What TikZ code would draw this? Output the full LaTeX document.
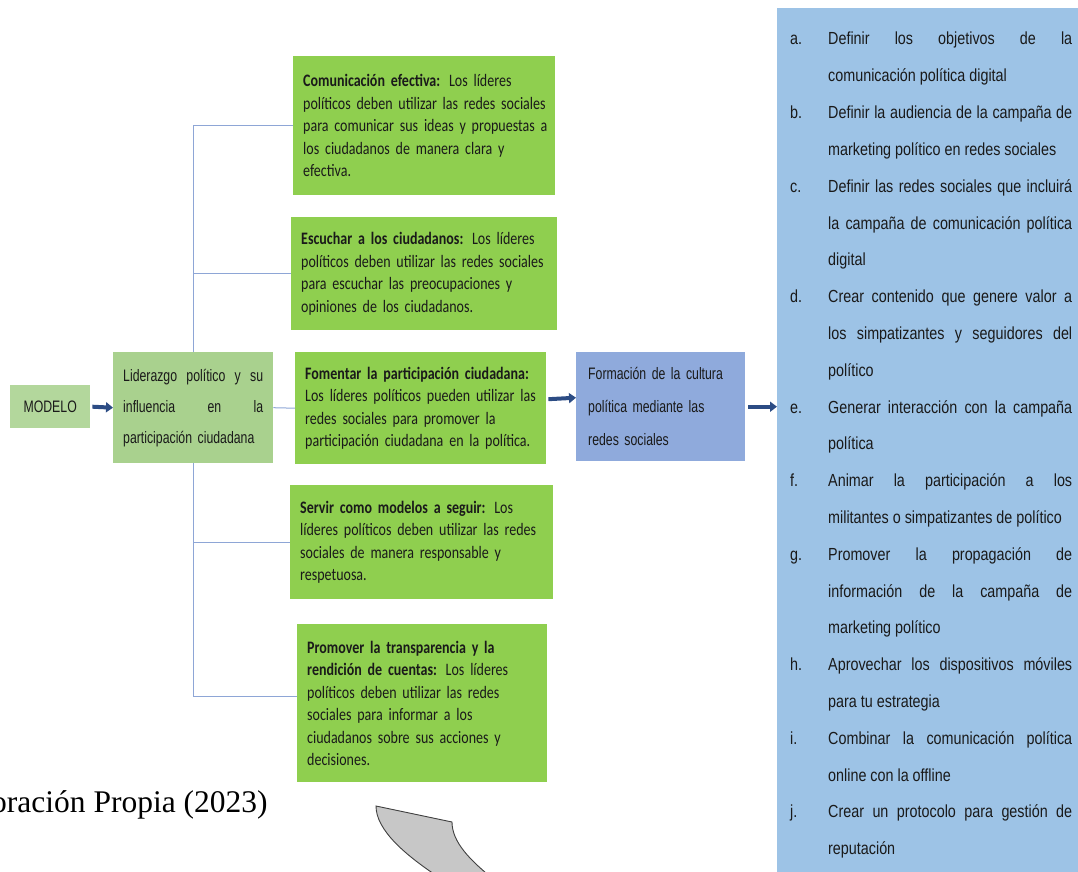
\documentclass[tikz,border=0pt]{standalone}
\usepackage{fontspec}
\setmainfont{Liberation Sans}
\newfontfamily\carlito[FakeStretch=0.8,WordSpace=0.6]{Carlito}
\newfontfamily\narrow[FakeStretch=0.82]{Liberation Sans}
\newfontfamily\narrowb[FakeStretch=0.74]{Liberation Sans}
\newfontfamily\timesf{Liberation Serif}
\usetikzlibrary{arrows.meta,calc}
\definecolor{modgreen}{HTML}{B3D79C}
\definecolor{lidgreen}{HTML}{A9D18E}
\definecolor{boxgreen}{HTML}{8FCF4F}
\definecolor{formblue}{HTML}{8FAADC}
\definecolor{listblue}{HTML}{9DC3E6}
\definecolor{arrowblue}{HTML}{2C4C84}
\definecolor{linkblue}{HTML}{8EA6D6}
\definecolor{txt}{HTML}{1A1A1A}
\newcommand\jl[1]{\makebox[244pt][s]{#1}}
\hyphenpenalty=10000
\exhyphenpenalty=10000
\tikzset{
  gbox/.style={fill=boxgreen, anchor=north west, inner xsep=10pt, inner ysep=0pt,
    align=left, text=txt, font=\carlito\fontsize{17.5}{22.5}\selectfont},
  narrowtxt/.style={text=txt, font=\narrowb\fontsize{16.6}{31}\selectfont},
  link/.style={draw=linkblue, line width=1pt},
  bigarrow/.style={draw=arrowblue, line width=4pt, -{Triangle[length=7pt,width=10pt]}},
  listtxt/.style={anchor=base west, inner sep=0pt, text=txt, font=\narrow\fontsize{17.5}{20}\selectfont},
}
\begin{document}
\begin{tikzpicture}[x=1pt,y=-1pt]
\useasboundingbox (0,0) rectangle (1078,872);

% list box
\node[fill=listblue, anchor=north west, minimum width=301pt, minimum height=864pt, inner sep=0pt] (list) at (777,8) {};

% left boxes
\node[fill=modgreen, anchor=north west, minimum width=80pt, minimum height=43pt, inner sep=0pt, narrowtxt] (mod) at (10,385) {MODELO};
\node[fill=lidgreen, anchor=north west, minimum width=160pt, minimum height=111pt, inner xsep=10pt, inner ysep=0pt, narrowtxt, align=left, text width=140pt] (lid) at (113,352)
  {\makebox[140pt][s]{Liderazgo\hfill político\hfill y\hfill su}\\ \makebox[140pt][s]{influencia\hfill en\hfill la}\\ participación ciudadana};

% green boxes
\node[gbox, minimum width=262pt, minimum height=139pt, text width=242pt] (b1) at (293,56)
  {\mbox{\textbf{Comunicación efectiva:} Los líderes}\\ \mbox{políticos deben utilizar las redes sociales}\\ \mbox{para comunicar sus ideas y propuestas a}\\ \mbox{los ciudadanos de manera clara y}\\ efectiva.};
\node[gbox, minimum width=266pt, minimum height=113pt, text width=246pt] (b2) at (291,217)
  {\mbox{\textbf{Escuchar a los ciudadanos:} Los líderes}\\ \mbox{políticos deben utilizar las redes sociales}\\ \mbox{para escuchar las preocupaciones y}\\ \mbox{opiniones de los ciudadanos.}};
\node[gbox, minimum width=251pt, minimum height=112pt, text width=231pt] (b3) at (295,352)
  {\mbox{\textbf{Fomentar la participación ciudadana:}}\\ \mbox{Los líderes políticos pueden utilizar las}\\ \mbox{redes sociales para promover la}\\ \mbox{participación ciudadana en la política.}};
\node[gbox, minimum width=263pt, minimum height=114pt, text width=243pt] (b4) at (290,485)
  {\mbox{\textbf{Servir como modelos a seguir:} Los}\\ \mbox{líderes políticos deben utilizar las redes}\\ \mbox{sociales de manera responsable y}\\ respetuosa.};
\node[gbox, minimum width=250pt, minimum height=158pt, text width=230pt] (b5) at (297,624)
  {\mbox{\textbf{Promover la transparencia y la}}\\ \mbox{\textbf{rendición de cuentas:} Los líderes}\\ \mbox{políticos deben utilizar las redes}\\ \mbox{sociales para informar a los}\\ \mbox{ciudadanos sobre sus acciones y}\\ decisiones.};

% formacion box
\node[fill=formblue, anchor=north west, minimum width=169pt, minimum height=109pt, inner xsep=12pt, inner ysep=0pt, align=left, text width=145pt, text=txt, font=\narrowb\fontsize{16.6}{33}\selectfont] (form) at (576,352)
  {Formación de la cultura\\ política mediante las\\ redes sociales};

% connectors
\draw[link] (lid.north) |- (b1.west);
\draw[link] (lid.north) |- (b2.west);
\draw[link] (lid.east) -- (b3.west);
\draw[link] (lid.south) |- (b4.west);
\draw[link] (lid.south) |- ($(b5.west)+(0,-7)$);

% arrows
\draw[bigarrow] ($(mod.east)+(2,0)$) -- (lid.west);
\draw[bigarrow] ($(b3.east)+(2,-9)$) -- ($(form.west)+(0,-9)$);
\draw[bigarrow] ($(form.east)+(3,0)$) -- (form.east -| list.west);

% list items
\foreach \i/\l in {0/a,2/b,4/c,7/d,10/e,12/f,14/g,17/h,19/i,21/j}
  \node[listtxt] (lt\i) at (790,{45+36.8*\i}) {\l.};
\foreach \i/\t in {
  0/{\jl{Definir los objetivos de la}},
  1/{comunicación política digital},
  2/{\jl{Definir la audiencia de la campaña de}},
  3/{marketing político en redes sociales},
  4/{\jl{Definir las redes sociales que incluirá}},
  5/{\jl{la campaña de comunicación política}},
  6/{digital},
  7/{\jl{Crear contenido que genere valor a}},
  8/{\jl{los simpatizantes y seguidores del}},
  9/{político},
  10/{\jl{Generar interacción con la campaña}},
  11/{política},
  12/{\jl{Animar la participación a los}},
  13/{militantes o simpatizantes de político},
  14/{\jl{Promover la propagación de}},
  15/{\jl{información de la campaña de}},
  16/{marketing político},
  17/{\jl{Aprovechar los dispositivos móviles}},
  18/{para tu estrategia},
  19/{\jl{Combinar la comunicación política}},
  20/{online con la offline},
  21/{\jl{Crear un protocolo para gestión de}},
  22/{reputación}}
  \node[listtxt] (ln\i) at (828,{45+36.8*\i}) {\t};

% caption
\node[anchor=base west, inner sep=0pt, font=\timesf\fontsize{31.5}{36}\selectfont] (cap) at (-9,812) {oración Propia (2023)};

% gray curved shape
\draw[fill=black!22, draw=black!75, line width=0.9pt]
  (376,806) -- (452,822) .. controls (452,842) and (470,860) .. (492,878)
  -- (440,878) .. controls (405,855) and (376,830) .. cycle;
\end{tikzpicture}
\end{document}
